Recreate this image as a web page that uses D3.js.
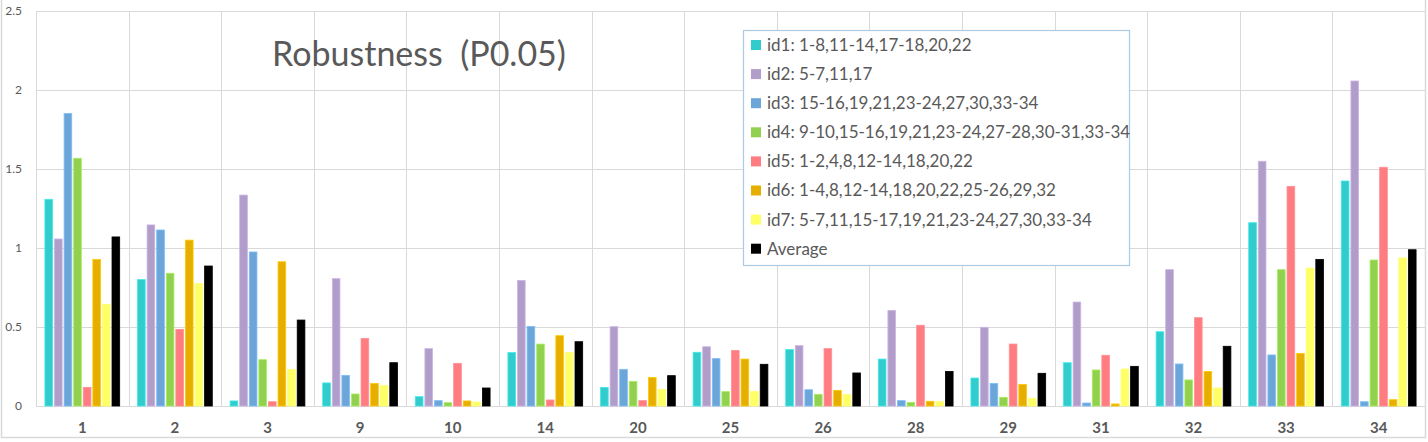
<!DOCTYPE html>
<html>
<head>
<meta charset="utf-8">
<script src="https://cdn.jsdelivr.net/npm/d3@7"></script>
<style>
  html, body { margin: 0; padding: 0; background: #fff; }
  svg { display: block; }
  text { font-family: Lato, "Open Sans", sans-serif; }
</style>
</head>
<body>
<svg id="chart" width="1428" height="442"></svg>
<script>
const categories = ["1","2","3","9","10","14","20","25","26","28","29","31","32","33","34"];
const seriesNames = [
  "id1: 1-8,11-14,17-18,20,22",
  "id2: 5-7,11,17",
  "id3: 15-16,19,21,23-24,27,30,33-34",
  "id4: 9-10,15-16,19,21,23-24,27-28,30-31,33-34",
  "id5: 1-2,4,8,12-14,18,20,22",
  "id6: 1-4,8,12-14,18,20,22,25-26,29,32",
  "id7: 5-7,11,15-17,19,21,23-24,27,30,33-34",
  "Average"
];
const id1 = [1.308,0.80,0.032,0.146,0.059,0.338,0.118,0.34,0.357,0.297,0.177,0.274,0.47,1.16,1.424];
const id2 = [1.057,1.146,1.335,0.806,0.363,0.795,0.502,0.375,0.382,0.605,0.498,0.658,0.863,1.549,2.057];
const id3 = [1.852,1.114,0.975,0.194,0.034,0.504,0.232,0.30,0.103,0.034,0.143,0.019,0.266,0.323,0.027];
const id4 = [1.568,0.84,0.293,0.076,0.021,0.392,0.156,0.091,0.074,0.023,0.055,0.228,0.165,0.863,0.924];
const id5 = [0.118,0.485,0.027,0.428,0.27,0.038,0.034,0.352,0.363,0.511,0.392,0.321,0.559,1.39,1.511];
const id6 = [0.928,1.05,0.913,0.143,0.032,0.445,0.18,0.297,0.099,0.03,0.137,0.013,0.219,0.333,0.04];
const id7 = [0.644,0.774,0.232,0.129,0.025,0.338,0.105,0.093,0.072,0.027,0.049,0.234,0.114,0.873,0.937];
const average = [1.07,0.886,0.544,0.274,0.114,0.407,0.192,0.264,0.209,0.219,0.207,0.251,0.378,0.928,0.989];
const yTicks = [0, 0.5, 1, 1.5, 2, 2.5];
const titleText = "Robustness  (P0.05)";

const allSeries = [id1, id2, id3, id4, id5, id6, id7, average];
const colors = ["#33CCCC", "#B19DC9", "#6CA6D9", "#92D050", "#FF7C80", "#E6AF00", "#FFFF66", "#000000"];

const svg = d3.select("#chart");
const margin = { left: 36, right: 1425, top: 11, bottom: 406 };

const x0 = d3.scaleBand().domain(categories).range([margin.left, margin.right]).padding(0);
const x1 = d3.scaleBand().domain(d3.range(allSeries.length)).range([0, x0.bandwidth()])
  .paddingInner(0.2).paddingOuter(0.93);
const y = d3.scaleLinear().domain([0, 2.5]).range([margin.bottom, margin.top]);

const grid = "#D9D9D9";

// outer frame
svg.append("path")
  .attr("d", `M1.5,0 V437.5 H1425.5 V0`)
  .attr("fill", "none").attr("stroke", grid).attr("stroke-width", 1.5);

// horizontal gridlines
svg.append("g").selectAll("line").data(yTicks).join("line")
  .attr("x1", margin.left).attr("x2", margin.right)
  .attr("y1", d => Math.round(y(d)) + 0.5).attr("y2", d => Math.round(y(d)) + 0.5)
  .attr("stroke", grid).attr("stroke-width", 1);

// vertical gridlines at category boundaries
const bounds = categories.map(c => x0(c));
svg.append("g").selectAll("line").data(bounds).join("line")
  .attr("x1", d => Math.round(d) + 0.5).attr("x2", d => Math.round(d) + 0.5)
  .attr("y1", margin.top).attr("y2", margin.bottom)
  .attr("stroke", grid).attr("stroke-width", 1);

// y axis labels
const yAxis = d3.axisLeft(y).tickValues(yTicks).tickSize(0).tickPadding(0)
  .tickFormat(d => String(d));
const yg = svg.append("g").attr("transform", "translate(22,0)").call(yAxis);
yg.select(".domain").remove();
yg.selectAll("text").attr("fill", "#595959").style("font-size", "12px")
  .style("font-family", "Lato, sans-serif");

// x axis labels
const xAxis = d3.axisBottom(x0).tickSize(0).tickPadding(0);
const xg = svg.append("g").attr("transform", `translate(0,${margin.bottom + 16})`).call(xAxis);
xg.select(".domain").remove();
xg.selectAll("text").attr("fill", "#595959").style("font-size", "15px")
  .style("font-weight", "bold").style("font-family", "Lato, sans-serif");

// bars
const groups = svg.append("g").selectAll("g").data(categories).join("g")
  .attr("transform", c => `translate(${x0(c)},0)`);
groups.selectAll("rect")
  .data((c, ci) => allSeries.map((s, si) => ({ si, v: s[ci] })))
  .join("rect")
  .attr("x", d => x1(d.si))
  .attr("width", x1.bandwidth())
  .attr("y", d => y(d.v))
  .attr("height", d => y(0) - y(d.v))
  .attr("fill", d => colors[d.si])
  .attr("stroke", d => d.si === 7 ? "#000" : d3.color(colors[d.si]).brighter(0.4))
  .attr("stroke-width", 0.8);

// title
svg.append("text")
  .attr("x", 272).attr("y", 66)
  .attr("fill", "#595959")
  .style("font-size", "34px")
  .style("white-space", "pre")
  .attr("xml:space", "preserve")
  .text(titleText);

// legend
const lg = svg.append("g");
lg.append("rect")
  .attr("x", 743.5).attr("y", 30.5).attr("width", 386).attr("height", 235)
  .attr("fill", "#fff").attr("stroke", "#A9CBE8").attr("stroke-width", 1.2);
const rowY = d3.scalePoint().domain(d3.range(seriesNames.length)).range([45, 248.7]);
const items = lg.selectAll("g.item").data(seriesNames).join("g")
  .attr("class", "item")
  .attr("transform", (d, i) => `translate(751,${rowY(i)})`);
items.append("rect")
  .attr("x", 0).attr("y", -5).attr("width", 10).attr("height", 10)
  .attr("fill", (d, i) => colors[i]);
items.append("text")
  .attr("x", 16).attr("y", 0).attr("dy", "0.35em")
  .attr("fill", "#595959").style("font-size", "17px")
  .text(d => d);
</script>
</body>
</html>
